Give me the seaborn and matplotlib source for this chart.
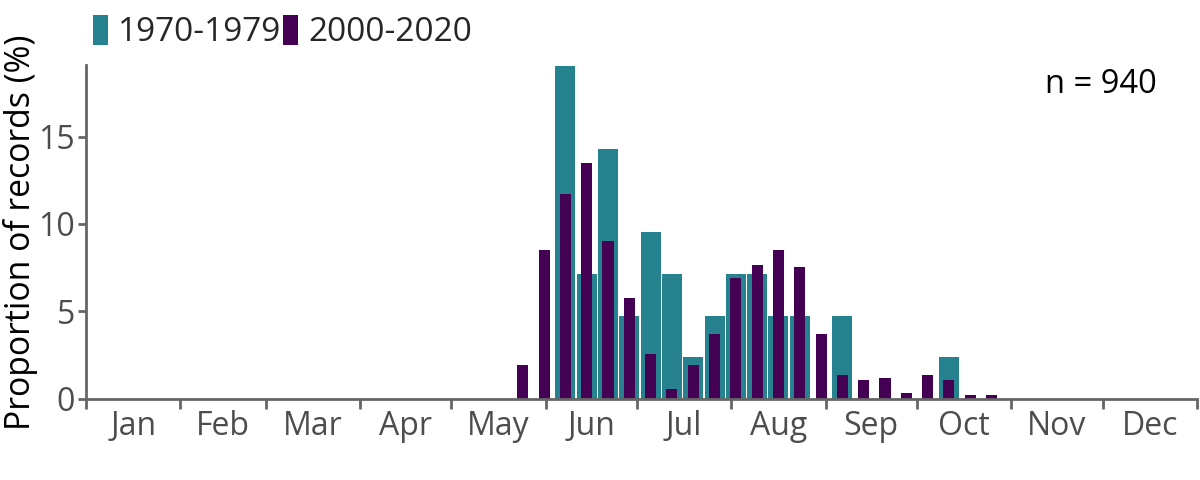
import numpy as np
import pandas as pd
import matplotlib
matplotlib.use('Agg')
import matplotlib.pyplot as plt
from matplotlib.patches import Patch
import seaborn as sns

# Semanas del año (1 = primera semana de enero) y proporción de registros (%)
semanas_1970 = [23, 24, 25, 26, 27, 28, 29, 30, 31, 32, 33, 34, 36, 41]
valores_1970 = [19.05, 7.14, 14.29, 4.76, 9.52, 7.14, 2.38, 4.76, 7.14, 7.14,
                4.76, 4.76, 4.76, 2.38]

semanas_2000 = list(range(21, 44))
valores_2000 = [1.91, 8.51, 11.70, 13.51, 9.04, 5.74, 2.55, 0.53, 1.91, 3.72,
                6.91, 7.66, 8.51, 7.55, 3.72, 1.38, 1.06, 1.17, 0.32, 1.38,
                1.06, 0.21, 0.21]

meses = ['Jan', 'Feb', 'Mar', 'Apr', 'May', 'Jun', 'Jul', 'Aug', 'Sep', 'Oct',
         'Nov', 'Dec']
dias_mes = [31, 28, 31, 30, 31, 30, 31, 31, 30, 31, 30, 31]
series = ['1970-1979', '2000-2020']
n_texto = 'n = 940'

color_1970 = '#26828E'
color_2000 = '#440154'

# Posición en día del año (centro de cada semana)
df_1970 = pd.DataFrame({'dia': [(s - 1) * 7 + 3.5 for s in semanas_1970],
                        'prop': valores_1970})
df_2000 = pd.DataFrame({'dia': [(s - 1) * 7 + 3.5 for s in semanas_2000],
                        'prop': valores_2000})

limites = np.concatenate([[0], np.cumsum(dias_mes)])
centros = (limites[:-1] + limites[1:]) / 2

sns.set_style('ticks')
plt.rcParams['font.family'] = ['Open Sans', 'DejaVu Sans']

fig = plt.figure(figsize=(12, 4.8), dpi=100)
ax = fig.add_axes([86 / 1200, 81.3 / 480, 1111 / 1200, 333.7 / 480])

sns.barplot(data=df_1970, x='dia', y='prop', native_scale=True, width=0.94,
            color=color_1970, saturation=1, errorbar=None, linewidth=0, ax=ax)
sns.barplot(data=df_2000, x='dia', y='prop', native_scale=True, width=0.52,
            color=color_2000, saturation=1, errorbar=None, linewidth=0, ax=ax)

ax.set_xlim(0, 365)
ax.set_ylim(0, 19.1)
ax.set_yticks([0, 5, 10, 15])

# Ticks mayores en los límites de mes, etiquetas en el centro del mes
ax.set_xticks(limites)
ax.set_xticklabels([])
ax.set_xticks(centros, minor=True)
ax.set_xticklabels(meses, minor=True)
ax.tick_params(axis='x', which='major', length=7, width=2, color='#666666')
ax.tick_params(axis='x', which='minor', length=0, pad=8, labelsize=23,
               labelcolor='#4d4d4d')
ax.tick_params(axis='y', length=6, width=2, color='#666666', labelsize=23,
               labelcolor='#4d4d4d', pad=2)

for lado in ['top', 'right']:
    ax.spines[lado].set_visible(False)
for lado in ['left', 'bottom']:
    ax.spines[lado].set_color('#666666')
    ax.spines[lado].set_linewidth(2)

ax.set_xlabel('')
ax.set_ylabel('Proportion of records (%)', fontsize=24.3, color='black')
ax.yaxis.set_label_coords(-0.043, 0.50)

ax.text(0.964, 0.943, n_texto, transform=ax.transAxes, ha='right', va='center',
        fontsize=23.5, color='black')

handles = [Patch(facecolor=color_1970, edgecolor='none'),
           Patch(facecolor=color_2000, edgecolor='none')]
fig.legend(handles, series, loc='center left', bbox_to_anchor=(93 / 1200, 0.933),
           ncol=2, frameon=False, fontsize=24, handlelength=0.45,
           handleheight=1.0, handletextpad=0.3, columnspacing=0.05,
           borderpad=0, borderaxespad=0)

fig.savefig('out.png', dpi=100)
